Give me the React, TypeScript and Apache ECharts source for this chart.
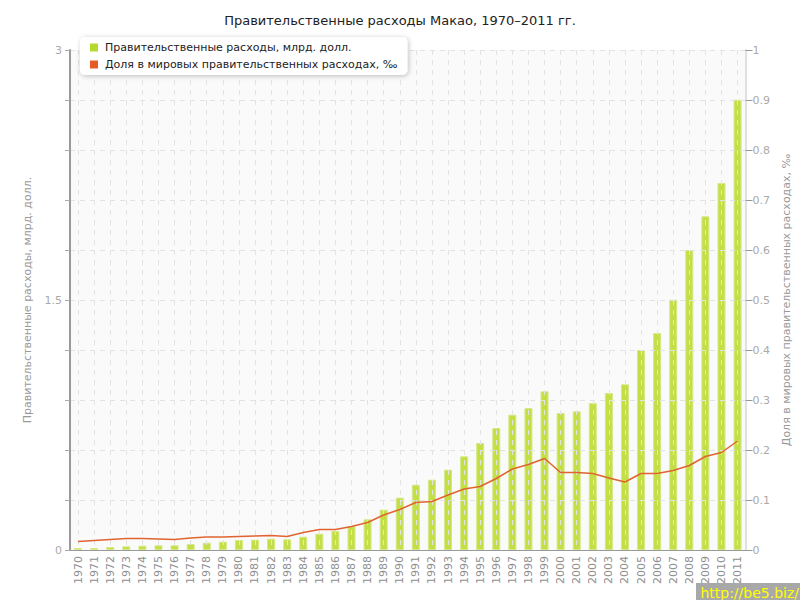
import React, { useEffect, useRef } from "react";
import * as echarts from "echarts";

const years = [
  "1970","1971","1972","1973","1974","1975","1976","1977","1978","1979",
  "1980","1981","1982","1983","1984","1985","1986","1987","1988","1989",
  "1990","1991","1992","1993","1994","1995","1996","1997","1998","1999",
  "2000","2001","2002","2003","2004","2005","2006","2007","2008","2009",
  "2010","2011",
];

// Government spending, bn USD
const spending = [
  0.012, 0.012, 0.018, 0.022, 0.026, 0.028, 0.028, 0.036, 0.044, 0.05,
  0.06, 0.062, 0.068, 0.064, 0.08, 0.098, 0.114, 0.142, 0.184, 0.242,
  0.314, 0.392, 0.422, 0.482, 0.562, 0.642, 0.732, 0.812, 0.852, 0.952,
  0.822, 0.832, 0.882, 0.942, 0.994, 1.2, 1.302, 1.502, 1.8, 2.002,
  2.202, 2.702,
];

// Share of world government spending, per mille
const share = [
  0.017, 0.019, 0.021, 0.023, 0.023, 0.022, 0.021, 0.024, 0.026, 0.026,
  0.027, 0.028, 0.029, 0.027, 0.035, 0.041, 0.041, 0.047, 0.055, 0.07,
  0.081, 0.095, 0.097, 0.11, 0.122, 0.127, 0.143, 0.162, 0.171, 0.183,
  0.155, 0.155, 0.153, 0.144, 0.136, 0.153, 0.153, 0.159, 0.169, 0.187,
  0.195, 0.218,
];

const leftLabels = [0, 1.5, 3];

const FONT = "DejaVu Sans";

export default function App() {
  const ref = useRef<HTMLDivElement>(null);

  useEffect(() => {
    if (!ref.current) return;
    const chart = echarts.init(ref.current, null, { renderer: "svg" });
    chart.setOption({
      animation: false,
      backgroundColor: "#ffffff",
      textStyle: { fontFamily: FONT },
      title: {
        text: "Правительственные расходы Макао, 1970–2011 гг.",
        left: "center",
        top: 9,
        textStyle: { fontFamily: FONT, fontSize: 13, fontWeight: "normal", color: "#222" },
      },
      legend: {
        orient: "vertical",
        left: 80,
        top: 37,
        itemWidth: 8,
        itemHeight: 8,
        itemGap: 6,
        icon: "rect",
        padding: [5, 10, 5, 10],
        backgroundColor: "#ffffff",
        borderRadius: 5,
        shadowBlur: 5,
        shadowColor: "rgba(0,0,0,0.25)",
        shadowOffsetX: 1,
        shadowOffsetY: 1,
        textStyle: { fontFamily: FONT, fontSize: 11, color: "#222", padding: [0, 0, 0, 2] },
        data: [
          { name: "Правительственные расходы, млрд. долл.", itemStyle: { color: "#b6d92e", borderWidth: 0 } },
          { name: "Доля в мировых правительственных расходах, ‰", itemStyle: { color: "#e55a25" } },
        ],
      },
      grid: {
        left: 70,
        right: 48,
        top: 50,
        bottom: 50,
        show: true,
        backgroundColor: "#fafafa",
        borderWidth: 0,
      },
      xAxis: {
        type: "category",
        data: years,
        z: 3,
        axisLine: { lineStyle: { color: "#999", width: 1 } },
        axisTick: { alignWithLabel: true, length: 5, lineStyle: { color: "#999" } },
        axisLabel: {
          rotate: 90,
          interval: 0,
          fontFamily: FONT,
          fontSize: 11,
          color: "#8f8f8f",
          margin: 6,
        },
        splitLine: {
          show: true,
          alignWithLabel: true,
          lineStyle: { type: [5, 5], color: "#e3e3e3", width: 1 },
        },
      },
      yAxis: [
        {
          type: "value",
          min: 0,
          max: 3,
          interval: 0.3,
          z: 3,
          name: "Правительственные расходы, млрд. долл.",
          nameLocation: "middle",
          nameGap: 37,
          nameTextStyle: { fontFamily: FONT, fontSize: 11, color: "#999" },
          axisLine: { show: true, lineStyle: { color: "#999", width: 2 } },
          axisTick: { show: true, length: 5, lineStyle: { color: "#aaa" } },
          axisLabel: {
            fontFamily: FONT,
            fontSize: 11,
            color: "#aaa",
            margin: 8,
            formatter: (v: number) => {
              const hit = leftLabels.find((l) => Math.abs(l - v) < 1e-6);
              return hit === undefined ? "" : String(hit);
            },
          },
          splitLine: {
            show: true,
            lineStyle: { type: [5, 5], color: "#e3e3e3", width: 1 },
          },
        },
        {
          type: "value",
          min: 0,
          max: 1,
          interval: 0.1,
          position: "right",
          name: "Доля в мировых правительственных расходах, ‰",
          nameLocation: "middle",
          nameGap: 34,
          nameRotate: 90,
          nameTextStyle: { fontFamily: FONT, fontSize: 11, color: "#999" },
          axisLine: { show: true, lineStyle: { color: "#e0e0e0", width: 2 } },
          axisTick: { show: true, length: 7, lineStyle: { color: "#999" } },
          axisLabel: {
            fontFamily: FONT,
            fontSize: 11,
            color: "#aaa",
            margin: 7,
            formatter: (v: number) => String(Math.round(v * 10) / 10),
          },
          splitLine: { show: false },
        },
      ],
      series: [
        {
          name: "Правительственные расходы, млрд. долл.",
          type: "bar",
          yAxisIndex: 0,
          data: spending,
          barWidth: 8,
          z: 2,
          itemStyle: { color: "#c3df45", borderColor: "#d3e987", borderWidth: 1 },
        },
        {
          name: "Доля в мировых правительственных расходах, ‰",
          type: "line",
          yAxisIndex: 1,
          data: share,
          z: 5,
          symbol: "none",
          lineStyle: { color: "#e0642f", width: 1.5 },
          itemStyle: { color: "#e55a25" },
        },
      ],
      graphic: [
        {
          type: "rect",
          right: 0,
          bottom: 0,
          shape: { width: 104, height: 17 },
          style: { fill: "#a8a8a8" },
          z: 100,
        },
        {
          type: "text",
          right: 1,
          bottom: 0,
          style: {
            text: "http://be5.biz/",
            fill: "#ffff00",
            font: "14px 'DejaVu Sans'",
          },
          z: 101,
        },
      ],
    });
    return () => chart.dispose();
  }, []);

  return <div ref={ref} style={{ width: 800, height: 600, position: "absolute", left: 0, top: 0 }} />;
}
